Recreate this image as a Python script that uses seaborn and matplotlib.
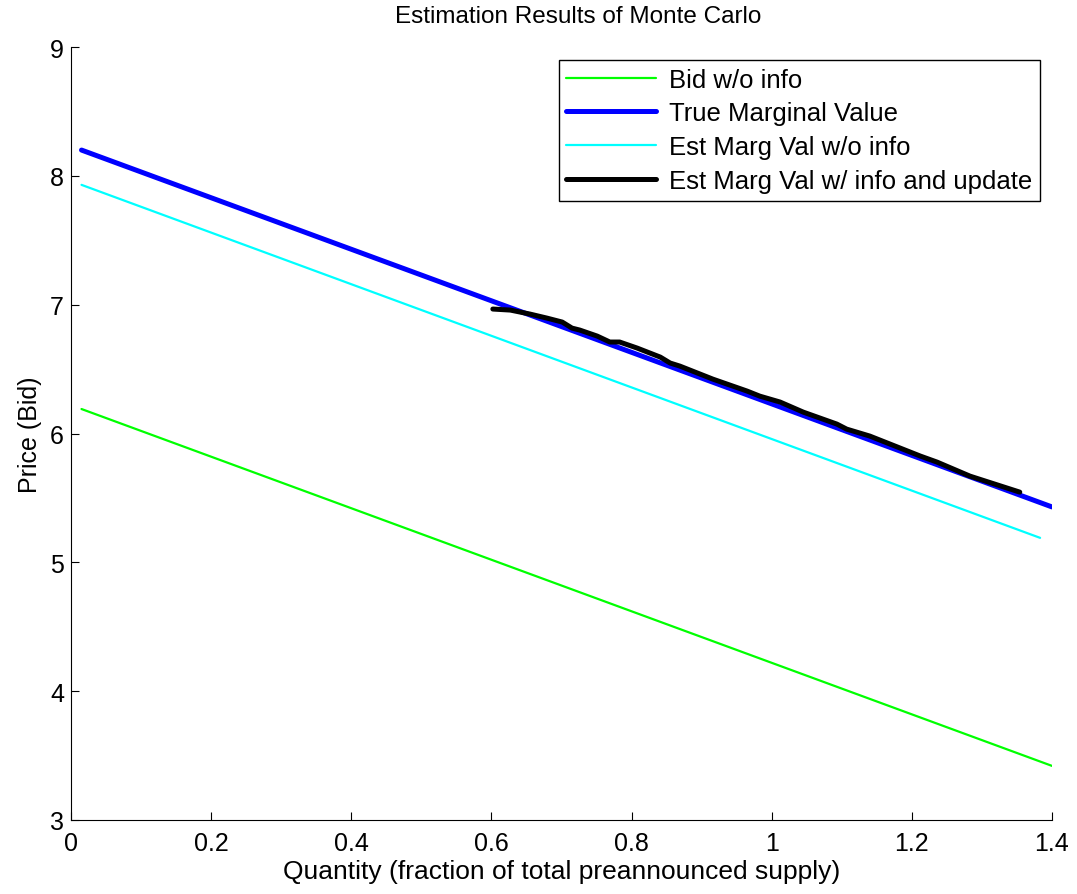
import matplotlib
matplotlib.use("Agg")
import matplotlib.pyplot as plt
import seaborn as sns

sns.set_style("ticks")
plt.rcParams['font.family'] = ['Liberation Sans', 'DejaVu Sans']

# Data
bid_q = [0.015, 1.40]
bid_p = [6.19, 3.42]

true_q = [0.015, 1.40]
true_p = [8.20, 5.43]

est_q = [0.015, 1.383]
est_p = [7.93, 5.19]

upd_q = [0.602, 0.627, 0.655, 0.679, 0.701, 0.715, 0.726, 0.751, 0.769, 0.783,
         0.808, 0.841, 0.855, 0.869, 0.916, 0.965, 0.983, 1.012, 1.045, 1.093,
         1.107, 1.140, 1.212, 1.236, 1.283, 1.354]
upd_p = [6.966, 6.958, 6.927, 6.896, 6.865, 6.818, 6.803, 6.756, 6.710, 6.710,
         6.663, 6.593, 6.547, 6.523, 6.422, 6.329, 6.290, 6.244, 6.166, 6.073,
         6.034, 5.980, 5.825, 5.778, 5.669, 5.545]

x_ticks = [0, 0.2, 0.4, 0.6, 0.8, 1.0, 1.2, 1.4]
x_tick_labels = ["0", "0.2", "0.4", "0.6", "0.8", "1", "1.2", "1.4"]
y_ticks = [3, 4, 5, 6, 7, 8, 9]

fig = plt.figure(figsize=(10.77, 8.95), dpi=100)
ax = fig.add_axes([71/1077, 74/895, 981/1077, 773/895])

sns.lineplot(x=bid_q, y=bid_p, ax=ax, color="#00ff00", lw=1.6, label="Bid w/o info", sort=False)
sns.lineplot(x=true_q, y=true_p, ax=ax, color="#0000ff", lw=3.6, label="True Marginal Value", sort=False)
sns.lineplot(x=est_q, y=est_p, ax=ax, color="#00ffff", lw=1.6, label="Est Marg Val w/o info", sort=False)
sns.lineplot(x=upd_q, y=upd_p, ax=ax, color="#000000", lw=3.6, label="Est Marg Val w/ info and update", sort=False)

ax.set_xlim(0, 1.4)
ax.set_ylim(3, 9)
ax.set_xticks(x_ticks)
ax.set_xticklabels(x_tick_labels)
ax.set_yticks(y_ticks)
ax.tick_params(direction="in", length=6, labelsize=18, width=0.8, colors="black")
ax.tick_params(axis="x", pad=8)
ax.tick_params(axis="y", pad=5)
for s in ["top", "right"]:
    ax.spines[s].set_visible(False)
for s in ["left", "bottom"]:
    ax.spines[s].set_linewidth(0.8)
    ax.spines[s].set_color("black")

ax.set_xlabel("Quantity (fraction of total preannounced supply)", fontsize=19, labelpad=3, color="black")
ax.set_ylabel("Price (Bid)", fontsize=18, labelpad=6, color="black")
ax.set_title("Estimation Results of Monte Carlo", fontsize=17.5, pad=18, color="black",
             x=(578 - 71) / 981)

leg = ax.legend(loc="upper right", bbox_to_anchor=((1040-71)/981, (821-61)/773),
                borderaxespad=0, fancybox=False, framealpha=1, edgecolor="black",
                fontsize=18.5, handlelength=3.5, handletextpad=0.5, labelspacing=0.38,
                borderpad=0.3)
leg.get_frame().set_linewidth(1.0)
for t in leg.get_texts():
    t.set_color("black")

fig.savefig("out.png", dpi=100)
